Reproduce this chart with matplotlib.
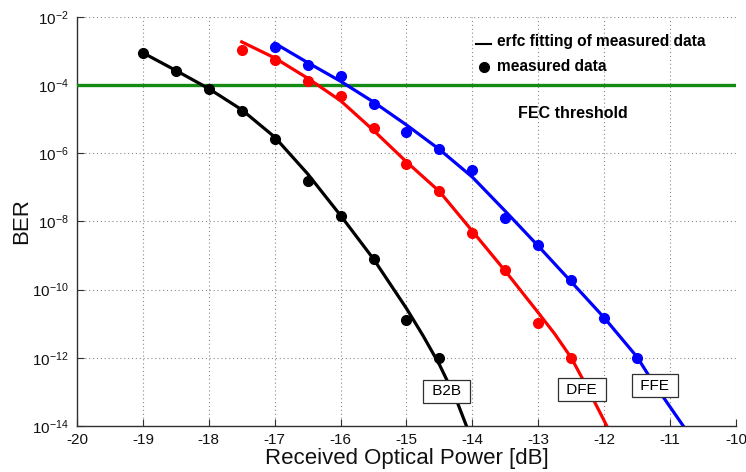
import matplotlib

matplotlib.use("Agg")
import matplotlib.pyplot as plt
from matplotlib.ticker import FixedLocator, NullLocator

# Measured points (received power in dB, BER)
b2b_x = [-19, -18.5, -18, -17.5, -17, -16.5, -16, -15.5, -15, -14.5]
b2b_ber = [9e-4, 2.6e-4, 7.6e-5, 1.8e-5, 2.6e-6, 1.5e-7, 1.45e-8, 8.2e-10, 1.3e-11, 1e-12]

dfe_x = [-17.5, -17, -16.5, -16, -15.5, -15, -14.5, -14, -13.5, -13, -12.5]
dfe_ber = [1.1e-3, 5.5e-4, 1.3e-4, 4.9e-5, 5.6e-6, 4.8e-7, 7.6e-8, 4.6e-9, 3.7e-10, 1.05e-11, 1e-12]

ffe_x = [-17, -16.5, -16, -15.5, -15, -14.5, -14, -13.5, -13, -12.5, -12, -11.5]
ffe_ber = [1.3e-3, 3.9e-4, 1.8e-4, 2.8e-5, 4.2e-6, 1.3e-6, 3.2e-7, 1.26e-8, 2e-9, 1.9e-10, 1.45e-11, 1e-12]

# erfc fit curves
b2b_fit_x = [-19, -18.5, -18, -17.5, -17, -16.5, -16, -15.5, -15, -14.75, -14.5, -14.25, -14.09]
b2b_fit_ber = [8.9e-4, 2.7e-4, 7.9e-5, 1.9e-5, 3.0e-6, 2.5e-7, 1.5e-8, 7.9e-10, 2.8e-11,
               4.5e-12, 6.3e-13, 6.3e-14, 1e-14]

dfe_fit_x = [-17.5, -17, -16.5, -16, -15.5, -15, -14.5, -14, -13.5, -13, -12.75, -12.5, -12.25, -11.96]
dfe_fit_ber = [1.86e-3, 6.3e-4, 1.6e-4, 3.5e-5, 4.7e-6, 5.6e-7, 7.6e-8, 5.2e-9, 3.5e-10,
               2.1e-11, 5.0e-12, 1.0e-12, 1.26e-13, 1e-14]

ffe_fit_x = [-17, -16.5, -16, -15.5, -15, -14.5, -14, -13.5, -13, -12.5, -12, -11.5, -11.25, -10.8]
ffe_fit_ber = [1.7e-3, 4.6e-4, 1.3e-4, 3.2e-5, 6.8e-6, 1.3e-6, 2.0e-7, 2.0e-8, 1.9e-9,
               1.7e-10, 1.5e-11, 1.05e-12, 1.8e-13, 1e-14]

fec_threshold = 1e-4

x_ticks = [-20, -19, -18, -17, -16, -15, -14, -13, -12, -11, -10]
y_ticks = [1e-14, 1e-12, 1e-10, 1e-8, 1e-6, 1e-4, 1e-2]
y_tick_labels = [r"$10^{-14}$", r"$10^{-12}$", r"$10^{-10}$", r"$10^{-8}$",
                 r"$10^{-6}$", r"$10^{-4}$", r"$10^{-2}$"]

curve_labels = ["B2B", "DFE", "FFE"]
label_x = [-14.39, -12.34, -11.23]
label_y = [1.05e-13, 1.15e-13, 1.5e-13]


def main() -> None:
    plt.rcParams["font.family"] = ["Liberation Sans", "DejaVu Sans"]
    plt.rcParams["mathtext.fontset"] = "custom"
    plt.rcParams["mathtext.rm"] = "Liberation Sans"
    plt.rcParams["mathtext.it"] = "Liberation Sans:italic"
    plt.rcParams["mathtext.bf"] = "Liberation Sans:bold"
    plt.rcParams["axes.unicode_minus"] = False

    fig = plt.figure(figsize=(7.46, 4.72), dpi=100)
    ax = fig.add_axes([0.1032, 0.0975, 0.8834, 0.8665])

    ax.set_yscale("log")
    ax.set_xlim(-20, -10)
    ax.set_ylim(1e-14, 1e-2)

    ax.axhline(fec_threshold, color="#148c14", lw=2.4, zorder=3)

    for fx, fy, px, py, c in [
        (b2b_fit_x, b2b_fit_ber, b2b_x, b2b_ber, "black"),
        (dfe_fit_x, dfe_fit_ber, dfe_x, dfe_ber, "#ff0000"),
        (ffe_fit_x, ffe_fit_ber, ffe_x, ffe_ber, "#0000ff"),
    ]:
        ax.plot(fx, fy, color=c, lw=2.3, solid_joinstyle="round", zorder=4)
        ax.plot(px, py, "o", color=c, ms=7, zorder=5)

    for txt, tx, ty in zip(curve_labels, label_x, label_y):
        ax.text(tx, ty, " " + txt + " ", fontsize=11, ha="center", va="center", zorder=6,
                bbox=dict(boxstyle="square,pad=0.3", fc="white", ec="#303030", lw=0.9))

    # legend drawn by hand, as in the original figure
    ax.plot([0.606, 0.628], [0.934, 0.934], transform=ax.transAxes, color="black", lw=1.5)
    ax.plot([0.617], [0.878], "o", transform=ax.transAxes, color="black", ms=7)
    ax.text(0.637, 0.941, "erfc fitting of measured data", transform=ax.transAxes,
            fontsize=11.2, fontweight="bold", va="center", ha="left")
    ax.text(0.637, 0.878, "measured data", transform=ax.transAxes,
            fontsize=11.2, fontweight="bold", va="center", ha="left")
    ax.text(0.752, 0.763, "FEC threshold", transform=ax.transAxes,
            fontsize=11.5, fontweight="bold", va="center", ha="center")

    ax.xaxis.set_major_locator(FixedLocator(x_ticks))
    ax.set_xticklabels([str(v) for v in x_ticks])
    ax.yaxis.set_major_locator(FixedLocator(y_ticks))
    ax.yaxis.set_minor_locator(NullLocator())
    ax.set_yticklabels(y_tick_labels)

    ax.tick_params(axis="both", direction="in", length=5, width=0.8, color="#303030",
                   labelsize=11, labelcolor="#111111")
    ax.tick_params(axis="x", pad=5)
    ax.tick_params(axis="y", pad=6)

    ax.grid(True, which="major", linestyle=(0, (1, 2.5)), color="#8a8a8a", lw=0.8)
    ax.spines["top"].set_visible(False)
    ax.spines["right"].set_visible(False)
    for side in ["left", "bottom"]:
        ax.spines[side].set_color("#303030")
        ax.spines[side].set_linewidth(1.0)

    ax.set_xlabel("Received Optical Power [dB]", fontsize=16, labelpad=1, color="#111111")
    ax.set_ylabel("BER", fontsize=16, color="#111111")
    ax.yaxis.set_label_coords(-0.068, 0.5)

    fig.savefig("out.png", dpi=100)
    plt.close(fig)


if __name__ == "__main__":
    main()
